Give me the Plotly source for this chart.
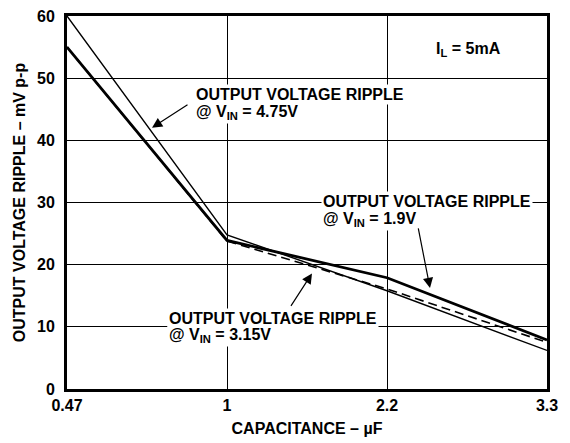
import plotly.graph_objects as go

capacitance = ["0.47", "1", "2.2", "3.3"]
ripple_475 = [60, 24.8, 15.8, 6.2]
ripple_190 = [55, 23.9, 17.9, 7.9]
ripple_315 = [55, 23.8, 16.1, 7.5]
y_ticks = [0, 10, 20, 30, 40, 50, 60]

FONT = "Liberation Sans, Arial, sans-serif"
FS = 16
L, R, T, B = 67, 23, 8, 51
W, H = 570, 443
PW, PH = W - L - R, H - T - B

def px(x):
    return (x - L) / PW

def py(y):
    return (T + PH - y) / PH

fig = go.Figure()
fig.add_trace(go.Scatter(x=capacitance, y=ripple_315, mode="lines",
                         line=dict(color="black", width=1.6, dash="9px,5px"), showlegend=False))
fig.add_trace(go.Scatter(x=capacitance, y=ripple_475, mode="lines",
                         line=dict(color="black", width=1.4), showlegend=False))
fig.add_trace(go.Scatter(x=capacitance, y=ripple_190, mode="lines",
                         line=dict(color="black", width=2.8), showlegend=False))

fnt = dict(family=FONT, size=FS, color="black")
labels = [
    (194, 89, "<b>OUTPUT VOLTAGE RIPPLE</b>"),
    (194, 107, "<b>@ V<sub>IN</sub> = 4.75V</b>"),
    (321, 199, "<b>OUTPUT VOLTAGE RIPPLE</b>"),
    (321, 217, "<b>@ V<sub>IN</sub> = 1.9V</b>"),
    (167, 319, "<b>OUTPUT VOLTAGE RIPPLE</b>"),
    (167, 337, "<b>@ V<sub>IN</sub> = 3.15V</b>"),
    (434, 43, "<b>I<sub>L</sub> = 5mA</b>"),
]
for x, y, t in labels:
    fig.add_annotation(xref="paper", yref="paper", x=px(x), y=py(y), text=t,
                       showarrow=False, xanchor="left", yanchor="middle", align="left",
                       bgcolor="white", borderpad=1, font=fnt)

arrows = [((152, 123), (189, 99)), ((430, 288), (418, 227)), ((312, 273), (290, 307))]
for (hx, hy), (tx, ty) in arrows:
    fig.add_annotation(xref="paper", yref="paper", x=px(hx), y=py(hy), text="",
                       showarrow=True, ax=tx - hx, ay=ty - hy, arrowhead=2,
                       arrowsize=1.7, arrowwidth=1.2, arrowcolor="black", standoff=0)

fig.update_layout(
    width=W, height=H, margin=dict(l=L, r=R, t=T, b=B),
    paper_bgcolor="white", plot_bgcolor="white",
    font=dict(family=FONT, size=FS, color="black"),
    xaxis=dict(type="category", range=[0, 3], showgrid=True, gridcolor="black", gridwidth=1,
               showline=True, linecolor="black", linewidth=3, mirror=True, ticks="",
               tickfont=dict(family=FONT, size=FS), ticklabelstandoff=0,
               title=dict(text="<b>CAPACITANCE – µF</b>", font=dict(family=FONT, size=FS), standoff=10)),
    yaxis=dict(range=[0, 60], tickvals=y_ticks, ticktext=[f"<b>{v}</b>" for v in y_ticks],
               showgrid=True, gridcolor="black", gridwidth=1, zeroline=False,
               showline=True, linecolor="black", linewidth=3, mirror=True, ticks="",
               tickfont=dict(family=FONT, size=FS), ticklabelstandoff=6,
               title=dict(text="<b>OUTPUT VOLTAGE RIPPLE – mV p-p</b>", font=dict(family=FONT, size=FS), standoff=8)),
)
fig.update_xaxes(tickvals=capacitance, ticktext=[f"<b>{c}</b>" for c in capacitance])
fig.write_html("out.html", config={"displayModeBar": False},
               post_script="document.body.style.margin='0';")
